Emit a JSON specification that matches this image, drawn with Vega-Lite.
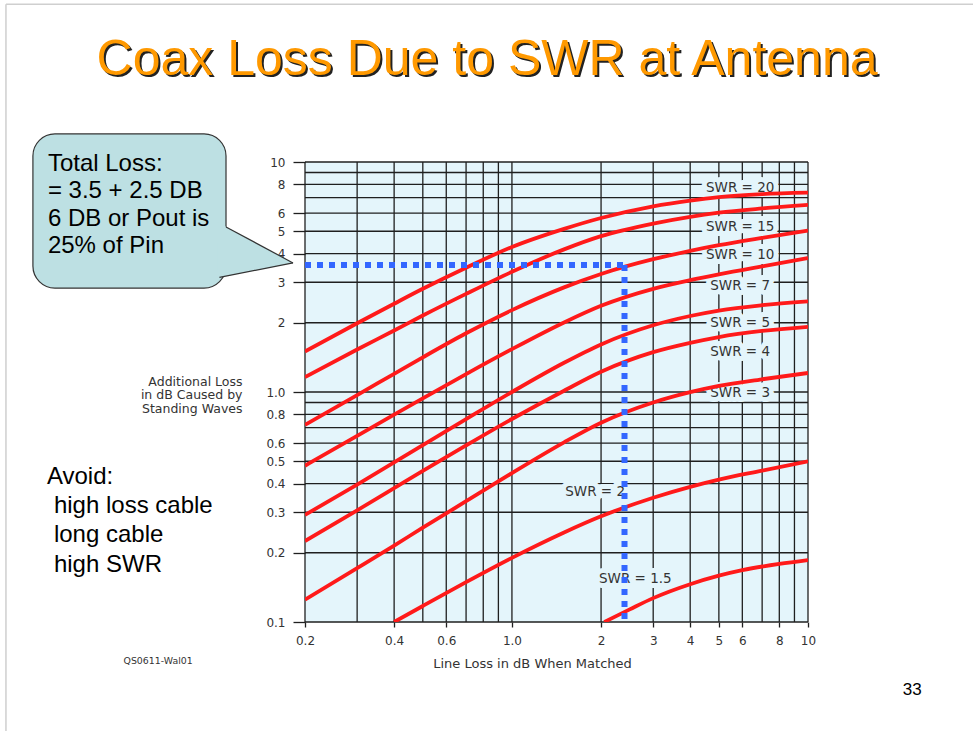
{
  "$schema": "https://vega.github.io/schema/vega-lite/v6.json",
  "width": 503,
  "height": 460,
  "autosize": {"type": "none"},
  "padding": {"left": 305, "top": 162, "right": 165, "bottom": 109},
  "background": "white",
  "config": {"view": {"fill": "#e4f5fb", "stroke": null}, "font": "DejaVu Sans"},
  "data": {"values": [{}]},
  "datasets": {
    "gridx": [{"v": 0.2}, {"v": 0.3}, {"v": 0.4}, {"v": 0.5}, {"v": 0.6}, {"v": 0.7}, {"v": 0.8}, {"v": 0.9}, {"v": 1}, {"v": 2}, {"v": 3}, {"v": 4}, {"v": 5}, {"v": 6}, {"v": 7}, {"v": 8}, {"v": 9}, {"v": 10}],
    "gridy": [{"v": 0.1}, {"v": 0.2}, {"v": 0.3}, {"v": 0.4}, {"v": 0.5}, {"v": 0.6}, {"v": 0.7}, {"v": 0.8}, {"v": 0.9}, {"v": 1}, {"v": 2}, {"v": 3}, {"v": 4}, {"v": 5}, {"v": 6}, {"v": 7}, {"v": 8}, {"v": 9}, {"v": 10}],
    "labels": [
      {"label": "SWR = 20", "x": 5.9, "y": 7.73},
      {"label": "SWR = 15", "x": 5.9, "y": 5.23},
      {"label": "SWR = 10", "x": 5.9, "y": 3.93},
      {"label": "SWR = 7", "x": 5.9, "y": 2.89},
      {"label": "SWR = 5", "x": 5.9, "y": 1.99},
      {"label": "SWR = 4", "x": 5.9, "y": 1.49},
      {"label": "SWR = 3", "x": 5.9, "y": 0.987},
      {"label": "SWR = 2", "x": 1.91, "y": 0.369},
      {"label": "SWR = 1.5", "x": 2.61, "y": 0.154}
    ],
    "tail": [
      {"x": 0.1009, "y": 5.48, "y2": 3.13},
      {"x": 0.1822, "y": 3.64, "y2": 3.64}
    ],
    "curves": [
      {"swr": "20", "x": 0.2, "y": 1.5}, {"swr": "20", "x": 0.3, "y": 1.99}, {"swr": "20", "x": 0.4, "y": 2.42}, {"swr": "20", "x": 0.5, "y": 2.81}, {"swr": "20", "x": 0.7, "y": 3.47}, {"swr": "20", "x": 1.0, "y": 4.27}, {"swr": "20", "x": 1.5, "y": 5.12}, {"swr": "20", "x": 2, "y": 5.71}, {"swr": "20", "x": 3, "y": 6.42}, {"swr": "20", "x": 4, "y": 6.8}, {"swr": "20", "x": 5, "y": 7.04}, {"swr": "20", "x": 7, "y": 7.25}, {"swr": "20", "x": 10, "y": 7.36},
      {"swr": "15", "x": 0.2, "y": 1.16}, {"swr": "15", "x": 0.3, "y": 1.53}, {"swr": "15", "x": 0.4, "y": 1.85}, {"swr": "15", "x": 0.5, "y": 2.15}, {"swr": "15", "x": 0.7, "y": 2.67}, {"swr": "15", "x": 1.0, "y": 3.33}, {"swr": "15", "x": 1.5, "y": 4.17}, {"swr": "15", "x": 2, "y": 4.76}, {"swr": "15", "x": 3, "y": 5.4}, {"swr": "15", "x": 4, "y": 5.78}, {"swr": "15", "x": 5, "y": 6.02}, {"swr": "15", "x": 7, "y": 6.28}, {"swr": "15", "x": 10, "y": 6.51},
      {"swr": "10", "x": 0.2, "y": 0.72}, {"swr": "10", "x": 0.3, "y": 0.97}, {"swr": "10", "x": 0.4, "y": 1.2}, {"swr": "10", "x": 0.5, "y": 1.415}, {"swr": "10", "x": 0.7, "y": 1.8}, {"swr": "10", "x": 1.0, "y": 2.27}, {"swr": "10", "x": 1.5, "y": 2.85}, {"swr": "10", "x": 2, "y": 3.26}, {"swr": "10", "x": 3, "y": 3.78}, {"swr": "10", "x": 4, "y": 4.11}, {"swr": "10", "x": 5, "y": 4.35}, {"swr": "10", "x": 7, "y": 4.68}, {"swr": "10", "x": 10, "y": 5.03},
      {"swr": "7", "x": 0.2, "y": 0.478}, {"swr": "7", "x": 0.3, "y": 0.645}, {"swr": "7", "x": 0.4, "y": 0.798}, {"swr": "7", "x": 0.5, "y": 0.939}, {"swr": "7", "x": 0.7, "y": 1.197}, {"swr": "7", "x": 1.0, "y": 1.536}, {"swr": "7", "x": 1.5, "y": 2.007}, {"swr": "7", "x": 2, "y": 2.371}, {"swr": "7", "x": 3, "y": 2.81}, {"swr": "7", "x": 4, "y": 3.065}, {"swr": "7", "x": 5, "y": 3.25}, {"swr": "7", "x": 7, "y": 3.52}, {"swr": "7", "x": 10, "y": 3.82},
      {"swr": "5", "x": 0.2, "y": 0.292}, {"swr": "5", "x": 0.3, "y": 0.396}, {"swr": "5", "x": 0.4, "y": 0.494}, {"swr": "5", "x": 0.5, "y": 0.588}, {"swr": "5", "x": 0.7, "y": 0.762}, {"swr": "5", "x": 1.0, "y": 1.0}, {"swr": "5", "x": 1.5, "y": 1.34}, {"swr": "5", "x": 2, "y": 1.61}, {"swr": "5", "x": 3, "y": 1.95}, {"swr": "5", "x": 4, "y": 2.14}, {"swr": "5", "x": 5, "y": 2.26}, {"swr": "5", "x": 7, "y": 2.385}, {"swr": "5", "x": 10, "y": 2.48},
      {"swr": "4", "x": 0.2, "y": 0.225}, {"swr": "4", "x": 0.3, "y": 0.306}, {"swr": "4", "x": 0.4, "y": 0.382}, {"swr": "4", "x": 0.5, "y": 0.454}, {"swr": "4", "x": 0.7, "y": 0.586}, {"swr": "4", "x": 1.0, "y": 0.763}, {"swr": "4", "x": 1.5, "y": 1.013}, {"swr": "4", "x": 2, "y": 1.225}, {"swr": "4", "x": 3, "y": 1.49}, {"swr": "4", "x": 4, "y": 1.636}, {"swr": "4", "x": 5, "y": 1.734}, {"swr": "4", "x": 7, "y": 1.842}, {"swr": "4", "x": 10, "y": 1.92},
      {"swr": "3", "x": 0.2, "y": 0.125}, {"swr": "3", "x": 0.3, "y": 0.1715}, {"swr": "3", "x": 0.4, "y": 0.215}, {"swr": "3", "x": 0.5, "y": 0.257}, {"swr": "3", "x": 0.7, "y": 0.335}, {"swr": "3", "x": 1.0, "y": 0.444}, {"swr": "3", "x": 1.5, "y": 0.604}, {"swr": "3", "x": 2, "y": 0.735}, {"swr": "3", "x": 3, "y": 0.9}, {"swr": "3", "x": 4, "y": 0.998}, {"swr": "3", "x": 5, "y": 1.063}, {"swr": "3", "x": 7, "y": 1.136}, {"swr": "3", "x": 10, "y": 1.21},
      {"swr": "2", "x": 0.4, "y": 0.1}, {"swr": "2", "x": 0.5, "y": 0.1174}, {"swr": "2", "x": 0.7, "y": 0.149}, {"swr": "2", "x": 1.0, "y": 0.19}, {"swr": "2", "x": 1.5, "y": 0.245}, {"swr": "2", "x": 2, "y": 0.288}, {"swr": "2", "x": 3, "y": 0.347}, {"swr": "2", "x": 4, "y": 0.387}, {"swr": "2", "x": 5, "y": 0.416}, {"swr": "2", "x": 7, "y": 0.455}, {"swr": "2", "x": 10, "y": 0.5},
      {"swr": "1.5", "x": 2.05, "y": 0.1}, {"swr": "1.5", "x": 2.5, "y": 0.1135}, {"swr": "1.5", "x": 3, "y": 0.127}, {"swr": "1.5", "x": 4, "y": 0.146}, {"swr": "1.5", "x": 5, "y": 0.159}, {"swr": "1.5", "x": 6, "y": 0.168}, {"swr": "1.5", "x": 8, "y": 0.179}, {"swr": "1.5", "x": 10, "y": 0.186}
    ]
  },
  "layer": [
    {
      "data": {"name": "gridx"},
      "mark": {"type": "rule", "stroke": "#1f1f1f", "strokeWidth": 1.3},
      "encoding": {
        "x": {
          "field": "v", "type": "quantitative",
          "scale": {"type": "log", "domain": [0.2, 10], "nice": false, "zero": false},
          "axis": {
            "values": [0.2, 0.4, 0.6, 1, 2, 3, 4, 5, 6, 8, 10],
            "labelExpr": "datum.value >= 2 ? format(datum.value, 'd') : format(datum.value, '.1f')",
            "grid": false, "domain": false,
            "tickSize": 5, "tickColor": "#1f1f1f", "tickWidth": 1.3,
            "labelPadding": 8, "labelFontSize": 12, "labelFont": "DejaVu Sans", "labelColor": "#333",
            "labelFlush": false, "labelOverlap": false, "labelBound": false,
            "title": "Line Loss in dB When Matched",
            "titleFont": "DejaVu Sans", "titleFontSize": 13, "titleFontWeight": "normal", "titleColor": "#333",
            "titleX": 227, "titleY": 45, "titleBaseline": "alphabetic", "titleAlign": "center"
          }
        }
      }
    },
    {
      "data": {"name": "gridy"},
      "mark": {"type": "rule", "stroke": "#1f1f1f", "strokeWidth": 1.3},
      "encoding": {
        "y": {
          "field": "v", "type": "quantitative",
          "scale": {"type": "log", "domain": [0.1, 10], "nice": false, "zero": false},
          "axis": {
            "values": [0.1, 0.2, 0.3, 0.4, 0.5, 0.6, 0.8, 1, 2, 3, 4, 5, 6, 8, 10],
            "labelExpr": "datum.value >= 2 ? format(datum.value, 'd') : format(datum.value, '.1f')",
            "grid": false, "domain": false,
            "tickSize": 12, "tickColor": "#1f1f1f", "tickWidth": 1.3,
            "labelPadding": 8, "labelFontSize": 12, "labelFont": "DejaVu Sans", "labelColor": "#333",
            "labelFlush": false, "labelOverlap": false, "labelBound": false,
            "title": ["Additional Loss", "in dB Caused by", "Standing Waves"],
            "titleFont": "DejaVu Sans", "titleFontSize": 12.5, "titleFontWeight": "normal", "titleColor": "#333",
            "titleAngle": 0, "titleAlign": "right", "titleX": -63, "titleY": 223,
            "titleBaseline": "alphabetic", "titleLineHeight": 13.5
          }
        }
      }
    },
    {
      "data": {"name": "labels"},
      "mark": {"type": "text", "fontSize": 13.5, "font": "DejaVu Sans", "fill": "#e4f5fb", "stroke": "#e4f5fb", "strokeWidth": 10, "strokeJoin": "round", "align": "center", "baseline": "middle"},
      "encoding": {
        "x": {"field": "x", "type": "quantitative"},
        "y": {"field": "y", "type": "quantitative"},
        "text": {"field": "label"}
      }
    },
    {
      "data": {"name": "labels"},
      "mark": {"type": "text", "fontSize": 13.5, "font": "DejaVu Sans", "fill": "#333", "align": "center", "baseline": "middle"},
      "encoding": {
        "x": {"field": "x", "type": "quantitative"},
        "y": {"field": "y", "type": "quantitative"},
        "text": {"field": "label"}
      }
    },
    {
      "data": {"name": "curves"},
      "mark": {"type": "line", "stroke": "#ff1a1a", "strokeWidth": 3.8, "interpolate": "monotone", "clip": true},
      "encoding": {
        "x": {"field": "x", "type": "quantitative"},
        "y": {"field": "y", "type": "quantitative"},
        "detail": {"field": "swr"}
      }
    },
    {
      "mark": {"type": "rule", "stroke": "#3366ff", "strokeWidth": 6, "strokeDash": [6, 6]},
      "encoding": {
        "x": {"datum": 0.2},
        "x2": {"datum": 2.4},
        "y": {"datum": 3.57}
      }
    },
    {
      "mark": {"type": "rule", "stroke": "#3366ff", "strokeWidth": 6, "strokeDash": [6, 6]},
      "encoding": {
        "x": {"datum": 2.4},
        "y": {"datum": 3.57},
        "y2": {"datum": 0.1}
      }
    },
    {
      "mark": {"type": "rule", "stroke": "#cfcfcf", "strokeWidth": 1.5},
      "encoding": {
        "x": {"datum": 0.01954},
        "x2": {"datum": 36.1},
        "y": {"datum": 48.5}
      }
    },
    {
      "mark": {"type": "rule", "stroke": "#cfcfcf", "strokeWidth": 1.5},
      "encoding": {
        "x": {"datum": 0.01954},
        "y": {"datum": 48.5},
        "y2": {"datum": 0.0336}
      }
    },
    {
      "mark": {"type": "text", "text": "Coax Loss Due to SWR at Antenna", "font": "Liberation Sans", "fontSize": 50, "fill": "#222", "align": "center", "baseline": "alphabetic", "dx": 2, "dy": 2},
      "encoding": {
        "x": {"datum": 0.824},
        "y": {"datum": 23.9}
      }
    },
    {
      "mark": {"type": "text", "text": "Coax Loss Due to SWR at Antenna", "font": "Liberation Sans", "fontSize": 50, "fill": "#ff9900", "align": "center", "baseline": "alphabetic"},
      "encoding": {
        "x": {"datum": 0.824},
        "y": {"datum": 23.9}
      }
    },
    {
      "mark": {"type": "rect", "fill": "#bde0e3", "stroke": "#333", "strokeWidth": 1.2, "cornerRadius": 22},
      "encoding": {
        "x": {"datum": 0.0241},
        "x2": {"datum": 0.1082},
        "y": {"datum": 13.24},
        "y2": {"datum": 2.83}
      }
    },
    {
      "data": {"name": "tail"},
      "mark": {"type": "area", "fill": "#bde0e3", "orient": "vertical"},
      "encoding": {
        "x": {"field": "x", "type": "quantitative"},
        "y": {"field": "y", "type": "quantitative"},
        "y2": {"field": "y2"}
      }
    },
    {
      "mark": {"type": "rule", "stroke": "#333", "strokeWidth": 1.2},
      "encoding": {
        "x": {"datum": 0.1082},
        "y": {"datum": 5.22},
        "x2": {"datum": 0.1822},
        "y2": {"datum": 3.64}
      }
    },
    {
      "mark": {"type": "rule", "stroke": "#333", "strokeWidth": 1.2},
      "encoding": {
        "x": {"datum": 0.1028},
        "y": {"datum": 3.15},
        "x2": {"datum": 0.1822},
        "y2": {"datum": 3.64}
      }
    },
    {
      "mark": {"type": "text", "text": ["Total Loss:", "= 3.5 + 2.5 DB", "6 DB or Pout is", "25% of Pin"], "font": "Liberation Sans", "fontSize": 24, "lineHeight": 27.5, "fill": "#000", "align": "left", "baseline": "alphabetic"},
      "encoding": {
        "x": {"datum": 0.02708},
        "y": {"datum": 9.17}
      }
    },
    {
      "mark": {"type": "text", "text": "Avoid:", "font": "Liberation Sans", "fontSize": 24, "fill": "#000", "align": "left", "baseline": "alphabetic"},
      "encoding": {
        "x": {"datum": 0.02688},
        "y": {"datum": 0.398}
      }
    },
    {
      "mark": {"type": "text", "text": ["high loss cable", "long cable", "high SWR"], "font": "Liberation Sans", "fontSize": 24, "lineHeight": 29.4, "fill": "#000", "align": "left", "baseline": "alphabetic"},
      "encoding": {
        "x": {"datum": 0.02838},
        "y": {"datum": 0.298}
      }
    },
    {
      "mark": {"type": "text", "text": "QS0611-Wal01", "font": "DejaVu Sans", "fontSize": 9.4, "fill": "#333", "align": "center", "baseline": "middle"},
      "encoding": {
        "x": {"datum": 0.0638},
        "y": {"datum": 0.0677}
      }
    },
    {
      "mark": {"type": "text", "text": "33", "font": "Liberation Sans", "fontSize": 17, "fill": "#000", "align": "center", "baseline": "alphabetic"},
      "encoding": {
        "x": {"datum": 22.5},
        "y": {"datum": 0.0482}
      }
    }
  ]
}
